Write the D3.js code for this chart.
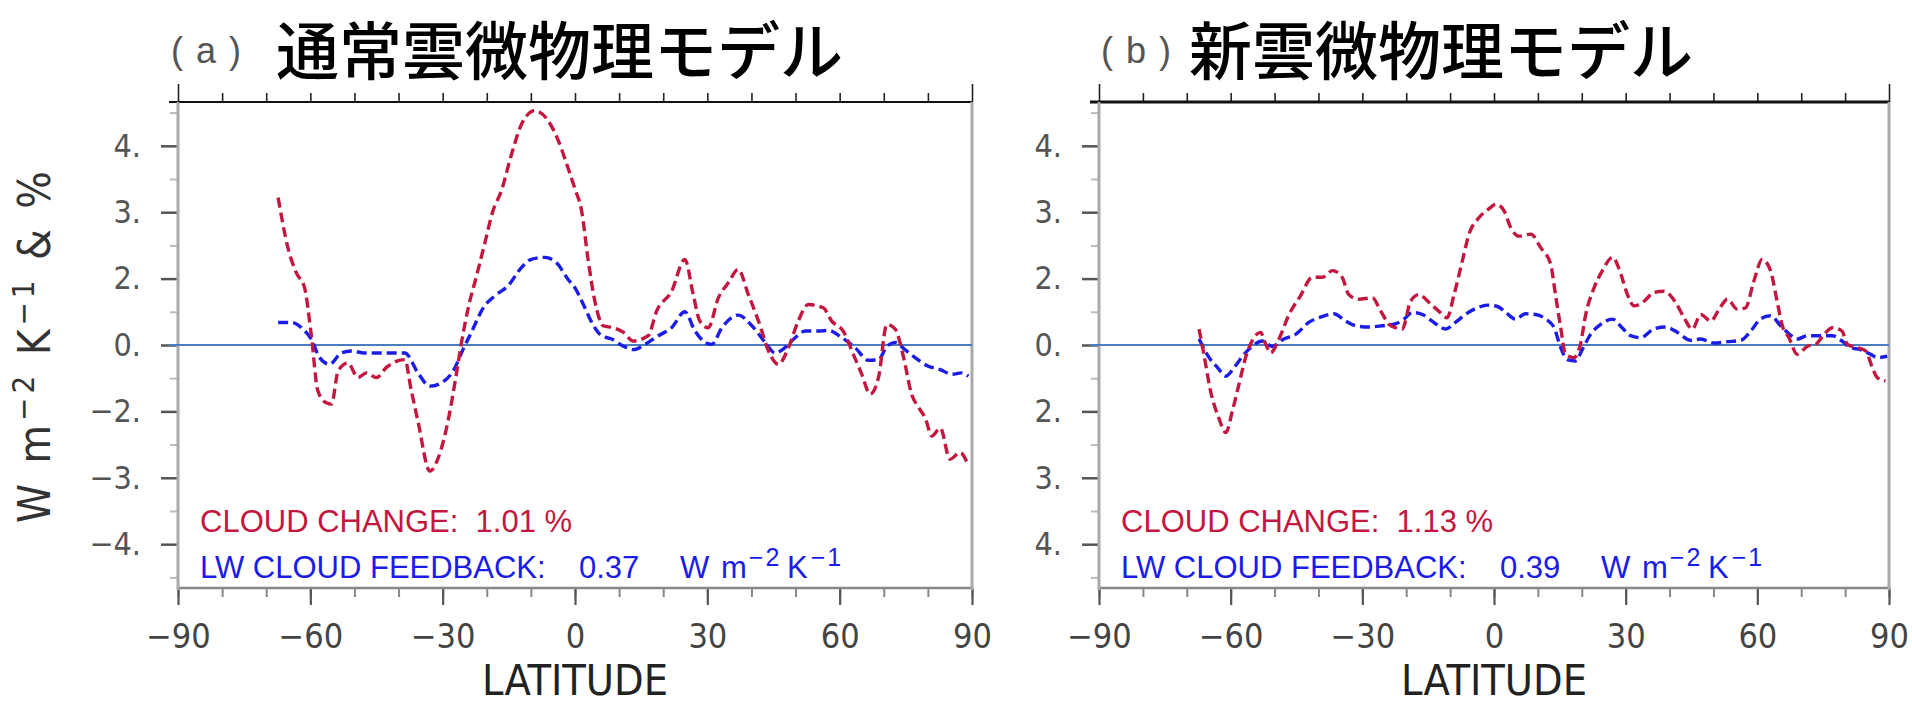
<!DOCTYPE html>
<html><head><meta charset="utf-8">
<script src="https://cdn.jsdelivr.net/npm/d3@7"></script>
<style>
html,body{margin:0;padding:0;background:#fff;}
svg text{white-space:pre;}
</style></head><body>
<svg id="c" width="1912" height="704"></svg>
<script>
// ---------- data (y in axis-position units; 0 = zero line, 1 unit = one labelled tick step) ----------
const latARed = [-67.3,-65.1,-63.2,-61.3,-59.8,-58.3,-56.4,-55.2,-53.7,-51.5,-49.2,-47.3,-45.0,-42.8,-38.6,-37.1,-35.6,-32.9,-31.0,-28.8,-26.9,-25.8,-24.2,-22.4,-20.5,-18.6,-16.7,-14.4,-12.1,-9.1,-6.1,-3.8,-1.6,0,1.5,3.0,4.5,6.4,8.7,11.0,13.2,16.6,18.5,21.9,24.9,26.8,28.3,30.2,32.5,34.8,37.0,39.3,41.6,44.2,46.1,48.4,50.6,52.9,56.3,58.2,60.8,63.1,65.0,66.9,68.8,70.7,72.6,74.5,76.3,77.9,79.4,80.9,82.8,85.0,87.3,89.2];
const valARed = [2.22,1.47,1.09,0.86,0.16,-0.69,-0.87,-0.89,-0.39,-0.27,-0.49,-0.42,-0.49,-0.34,-0.22,-0.69,-1.15,-1.90,-1.70,-1.15,-0.44,0.01,0.56,1.02,1.52,2.02,2.32,2.87,3.33,3.53,3.38,3.08,2.67,2.35,2.02,1.27,0.66,0.29,0.26,0.19,0.06,0.14,0.51,0.81,1.29,0.76,0.36,0.26,0.71,0.94,1.14,0.76,0.36,-0.14,-0.29,-0.04,0.36,0.61,0.56,0.36,0.21,-0.14,-0.44,-0.74,-0.49,0.31,0.24,-0.19,-0.74,-0.94,-1.10,-1.37,-1.25,-1.72,-1.62,-1.82];
const latABlue = [-67.3,-64.3,-61.7,-59.8,-57.9,-55.6,-53.0,-50.7,-47.7,-44.6,-41.6,-38.6,-35.6,-32.9,-30.3,-27.6,-25.4,-23.5,-20.8,-18.2,-15.2,-12.1,-9.9,-6.9,-4.2,-1.6,0,1.9,3.8,6.0,8.3,11.0,13.2,15.9,18.9,21.9,24.9,27.2,29.5,31.0,33.3,37.0,40.1,43.1,45.4,47.6,49.9,52.2,55.2,57.4,60.5,63.5,66.5,68.8,70.7,72.6,74.8,77.1,80.1,82.8,85.4,87.7,89.2];
const valABlue = [0.34,0.34,0.24,0.09,-0.19,-0.29,-0.12,-0.09,-0.12,-0.12,-0.12,-0.12,-0.42,-0.62,-0.57,-0.39,-0.07,0.19,0.56,0.74,0.89,1.17,1.29,1.32,1.24,0.99,0.86,0.61,0.34,0.14,0.09,-0.02,-0.07,0.01,0.14,0.26,0.50,0.21,0.04,0.01,0.26,0.45,0.29,0.04,-0.12,-0.04,0.11,0.21,0.21,0.22,0.11,-0.04,-0.23,-0.22,-0.02,0.04,-0.07,-0.19,-0.32,-0.37,-0.44,-0.42,-0.47];
const latBRed = [-67.2,-66.1,-64.6,-62.7,-61.1,-59.6,-58.1,-56.6,-54.7,-53.2,-52.0,-50.9,-49.0,-46.7,-44.1,-41.4,-39.1,-36.8,-34.6,-33.1,-30.8,-27.7,-25.8,-23.9,-22.4,-20.9,-19.0,-17.1,-14.8,-12.6,-10.7,-9.1,-7.2,-5.7,-3.4,-1.2,0.5,2.3,3.8,5.7,8.4,10.6,12.9,14.0,15.2,16.3,18.2,19.7,20.9,22.8,24.7,27.0,28.9,30.4,31.9,34.2,36.4,38.7,41.4,43.3,45.2,47.1,49.4,51.3,53.2,55.4,57.3,59.2,61.1,63.0,64.5,65.7,67.2,69.1,71.4,73.3,75.2,77.1,79.3,80.5,82.8,84.7,86.2,87.3,89.2];
const valBRed = [0.24,-0.14,-0.69,-1.10,-1.32,-0.99,-0.59,-0.19,0.11,0.19,0.01,-0.12,0.09,0.46,0.74,1.02,1.02,1.12,1.02,0.76,0.69,0.71,0.51,0.31,0.26,0.24,0.66,0.76,0.64,0.51,0.41,0.76,1.27,1.67,1.92,2.05,2.12,2.02,1.77,1.64,1.67,1.47,1.22,0.76,0.26,-0.14,-0.19,0.01,0.46,0.86,1.12,1.32,1.07,0.76,0.59,0.66,0.79,0.81,0.64,0.41,0.24,0.46,0.36,0.54,0.69,0.54,0.56,0.96,1.29,1.12,0.66,0.29,0.11,-0.14,-0.02,0.01,0.16,0.26,0.21,0.01,-0.04,-0.09,-0.34,-0.49,-0.54];
const latBBlue = [-67.2,-64.9,-63.0,-61.1,-59.2,-57.3,-55.1,-52.8,-50.5,-47.9,-45.2,-42.2,-39.5,-36.5,-33.8,-31.5,-28.5,-25.5,-22.4,-20.5,-18.6,-16.3,-14.1,-11.0,-8.8,-6.5,-3.8,-1.5,0.8,2.7,4.9,7.2,9.5,11.8,13.7,15.2,16.7,18.6,20.1,22.0,24.3,27.0,29.2,31.1,33.4,36.4,39.1,41.8,44.8,47.1,50.1,53.2,56.2,58.5,60.7,63.0,65.3,67.2,69.1,71.4,74.4,77.1,79.3,81.2,83.5,85.8,87.3,89.6];
const valBBlue = [0.09,-0.19,-0.34,-0.47,-0.34,-0.17,-0.02,0.06,-0.02,0.09,0.16,0.34,0.42,0.47,0.36,0.29,0.27,0.29,0.32,0.39,0.49,0.46,0.36,0.24,0.34,0.46,0.56,0.60,0.58,0.49,0.39,0.47,0.46,0.39,0.26,-0.04,-0.22,-0.24,-0.07,0.16,0.31,0.39,0.26,0.14,0.11,0.24,0.27,0.19,0.07,0.09,0.03,0.05,0.07,0.21,0.39,0.44,0.29,0.17,0.09,0.14,0.14,0.14,0.06,-0.04,-0.07,-0.14,-0.19,-0.17];

const yTickPos = [-3,-2,-1,0,1,2,3];
const yTickLabelsA = ["\u22124.","\u22123.","\u22122.","0.","2.","3.","4."];
const yTickLabelsB = ["4.","3.","2.","0.","2.","3.","4."];
const xTickVals = [-90,-60,-30,0,30,60,90];
const xTickLabels = ["\u221290","\u221260","\u221230","0","30","60","90"];
const titlesTag = ["(a)","(b)"];
const titlesMain = ["通常雲微物理モデル","新雲微物理モデル"];
const cloudChange = ["1.01","1.13"];
const lwFeedback = ["0.37","0.39"];

// ---------- drawing ----------
const svg = d3.select("#c");
const NARROW = "'Liberation Sans Narrow','DejaVu Sans Condensed',sans-serif";
const SANS = "'Liberation Sans',Arial,sans-serif";
const RED = "#c4173f", BLUE = "#1c1ce8", ZERO = "#4a7dbf";
const yTop = 102, yBot = 588;

function panel(cfg){
  const x = d3.scaleLinear().domain([-90,90]).range([cfg.x0,cfg.x1]);
  const y = d3.scaleLinear().domain([-3.66,3.66]).range([yBot,yTop]);
  const g = svg.append("g");

  // left axis
  const yMinor = d3.range(-3.5,3.6,1);
  g.append("g").attr("transform",`translate(${cfg.x0},0)`)
    .call(d3.axisLeft(y).tickValues(yMinor).tickFormat("").tickSize(8))
    .call(a=>{a.select(".domain").remove();a.selectAll("line").attr("stroke","#bbb").attr("stroke-width",2);});
  g.append("g").attr("transform",`translate(${cfg.x0},0)`)
    .call(d3.axisLeft(y).tickValues(yTickPos).tickFormat((d,i)=>cfg.yLabels[i]).tickSize(17).tickPadding(20))
    .call(a=>{a.select(".domain").remove();
      a.selectAll("line").attr("stroke","#555").attr("stroke-width",2.5);
      a.selectAll("text").attr("font-family",NARROW).attr("font-size",32).attr("fill","#555");});

  // bottom axis
  g.append("g").attr("transform",`translate(0,${yBot})`)
    .call(d3.axisBottom(x).tickValues(d3.range(-90,91,10)).tickFormat("").tickSize(9))
    .call(a=>{a.select(".domain").remove();a.selectAll("line").attr("stroke","#888").attr("stroke-width",2);});
  g.append("g").attr("transform",`translate(0,${yBot})`)
    .call(d3.axisBottom(x).tickValues(xTickVals).tickFormat((d,i)=>xTickLabels[i]).tickSize(17).tickPadding(19))
    .call(a=>{a.select(".domain").remove();
      a.selectAll("line").attr("stroke","#555").attr("stroke-width",2.2);
      a.selectAll("text").attr("font-family",NARROW).attr("font-size",34).attr("fill","#444");});

  // top axis
  g.append("g").attr("transform",`translate(0,${yTop})`)
    .call(d3.axisTop(x).tickValues(d3.range(-80,81,10)).tickFormat("").tickSize(9))
    .call(a=>{a.select(".domain").remove();a.selectAll("line").attr("stroke","#222").attr("stroke-width",1.6);});
  g.append("g").attr("transform",`translate(0,${yTop})`)
    .call(d3.axisTop(x).tickValues([-90,90]).tickFormat("").tickSize(18))
    .call(a=>{a.select(".domain").remove();a.selectAll("line").attr("stroke","#222").attr("stroke-width",1.6);});

  // frame
  g.append("line").attr("x1",cfg.x0-9).attr("x2",cfg.x1).attr("y1",yTop).attr("y2",yTop).attr("stroke","#111").attr("stroke-width",cfg.topW);
  g.append("line").attr("x1",cfg.x0).attr("x2",cfg.x1).attr("y1",yBot).attr("y2",yBot).attr("stroke","#888").attr("stroke-width",2.5);
  g.append("line").attr("x1",cfg.x0).attr("x2",cfg.x0).attr("y1",yTop).attr("y2",yBot+2).attr("stroke","#aaa").attr("stroke-width",3);
  g.append("line").attr("x1",cfg.x1).attr("x2",cfg.x1).attr("y1",yTop).attr("y2",yBot+2).attr("stroke","#aaa").attr("stroke-width",3);

  // zero line
  g.append("line").attr("x1",cfg.x0-9).attr("x2",cfg.x1).attr("y1",y(0)).attr("y2",y(0)).attr("stroke",ZERO).attr("stroke-width",2.2);

  const line = d3.line().x(d=>x(d[0])).y(d=>y(d[1])).curve(d3.curveMonotoneX);
  g.append("path").datum(d3.zip(cfg.latBlue,cfg.valBlue)).attr("d",line)
    .attr("fill","none").attr("stroke",BLUE).attr("stroke-width",3.4).attr("stroke-dasharray","10,5");
  g.append("path").datum(d3.zip(cfg.latRed,cfg.valRed)).attr("d",line)
    .attr("fill","none").attr("stroke",RED).attr("stroke-width",3.4).attr("stroke-dasharray","10,5");

  // legend texts
  const lx = cfg.x0 + 22;
  g.append("text").attr("x",lx).attr("y",532).attr("font-family",SANS).attr("font-size",31).attr("fill",RED)
    .text(`CLOUD CHANGE:  ${cfg.cc} %`);
  g.append("text").attr("x",lx).attr("y",578).attr("font-family",SANS).attr("font-size",31).attr("fill",BLUE)
    .text("LW CLOUD FEEDBACK:");
  g.append("text").attr("x",lx+379).attr("y",578).attr("font-family",SANS).attr("font-size",31).attr("fill",BLUE)
    .text(cfg.lw);
  const u = g.append("text").attr("x",lx+480).attr("y",578).attr("font-family",SANS).attr("font-size",31).attr("fill",BLUE);
  u.append("tspan").text("W");
  u.append("tspan").attr("x",lx+521).text("m");
  u.append("tspan").attr("font-size",25).attr("letter-spacing",2).attr("dx",2).attr("dy",-12).text("\u22122");
  u.append("tspan").attr("x",lx+587).attr("dy",12).text("K");
  u.append("tspan").attr("font-size",25).attr("letter-spacing",2).attr("dx",3).attr("dy",-12).text("\u22121");

  // titles
  svg.append("text").attr("x",cfg.tagX).attr("y",50).attr("dominant-baseline","central")
    .attr("font-family",SANS).attr("font-size",36).attr("letter-spacing",13).attr("fill","#555").text(cfg.tag);
  svg.append("text").attr("x",cfg.titleX).attr("y",46).attr("dominant-baseline","central")
    .attr("font-family","'Noto Sans CJK JP',sans-serif").attr("font-weight",500)
    .attr("font-size",63).attr("fill","#000").text(cfg.title);

  // x axis title
  svg.append("text").attr("x",(cfg.x0+cfg.x1)/2).attr("y",695).attr("text-anchor","middle")
    .attr("font-family",NARROW).attr("font-size",42).attr("fill","#222")
    .attr("textLength",186).attr("lengthAdjust","spacingAndGlyphs").text("LATITUDE");
}

panel({x0:178,x1:972,yLabels:yTickLabelsA,latRed:latARed,valRed:valARed,latBlue:latABlue,valBlue:valABlue,
  cc:cloudChange[0],lw:lwFeedback[0],tag:titlesTag[0],title:titlesMain[0],tagX:171,titleX:276,topW:2});
panel({x0:1099,x1:1889,yLabels:yTickLabelsB,latRed:latBRed,valRed:valBRed,latBlue:latBBlue,valBlue:valBBlue,
  cc:cloudChange[1],lw:lwFeedback[1],tag:titlesTag[1],title:titlesMain[1],tagX:1101,titleX:1189,topW:3});

// y axis title (panel a)
const yt = svg.append("text").attr("transform","translate(50,347) rotate(-90)").attr("text-anchor","middle")
  .attr("font-family",NARROW).attr("font-size",44).attr("fill","#333")
  .attr("textLength",352).attr("lengthAdjust","spacing");
yt.append("tspan").text("W m");
yt.append("tspan").attr("font-size",31).attr("dy",-16).text("\u22122");
yt.append("tspan").attr("dy",16).text(" K");
yt.append("tspan").attr("font-size",31).attr("dy",-16).text("\u22121");
yt.append("tspan").attr("dy",16).text(" & %");
</script>
</body></html>
